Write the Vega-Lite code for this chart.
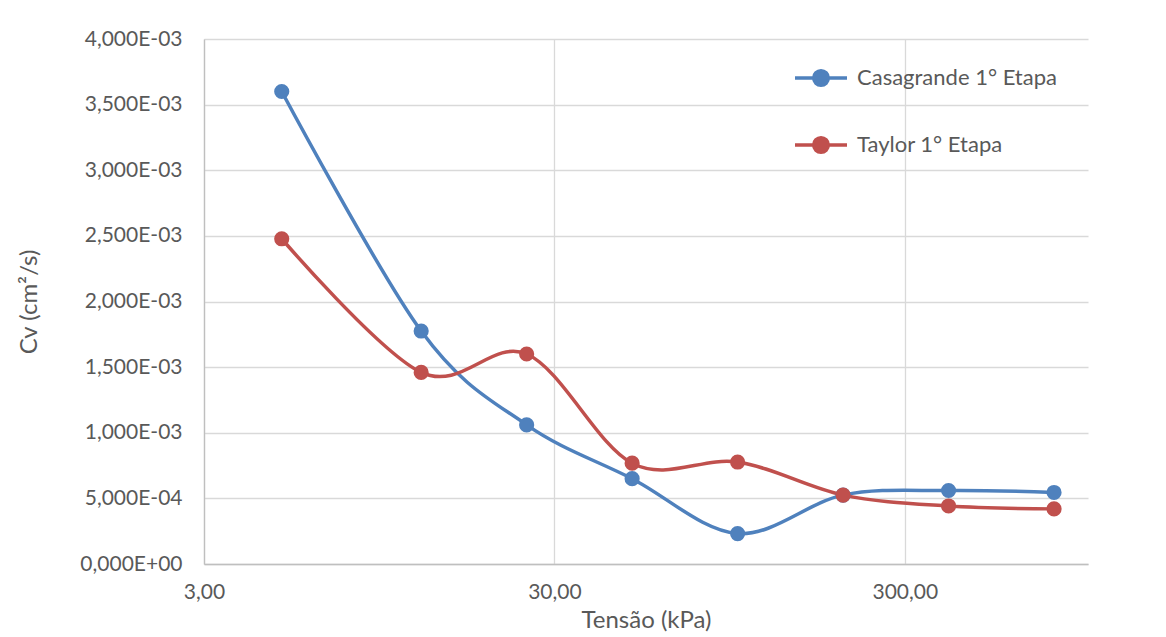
{
  "$schema": "https://vega.github.io/schema/vega-lite/v6.json",
  "width": 884,
  "height": 525,
  "autosize": {"type": "none"},
  "padding": {"left": 204, "top": 39, "right": 78, "bottom": 73},
  "background": "white",
  "config": {
    "view": {"stroke": null},
    "font": "Lato",
    "axis": {
      "labelFont": "Lato",
      "titleFont": "Lato",
      "labelColor": "#595959",
      "titleColor": "#595959",
      "labelFontSize": 21,
      "titleFontSize": 24,
      "titleFontWeight": "normal",
      "gridColor": "#d9d9d9",
      "gridWidth": 1.3,
      "domainColor": "#bfbfbf",
      "domainWidth": 1.3,
      "ticks": false
    }
  },
  "data": {
    "values": [
      {"serie": "Casagrande 1° Etapa", "tensao": 5, "cv": 0.0036},
      {"serie": "Casagrande 1° Etapa", "tensao": 12.5, "cv": 0.001775},
      {"serie": "Casagrande 1° Etapa", "tensao": 25, "cv": 0.00106},
      {"serie": "Casagrande 1° Etapa", "tensao": 50, "cv": 0.00065},
      {"serie": "Casagrande 1° Etapa", "tensao": 100, "cv": 0.000232},
      {"serie": "Casagrande 1° Etapa", "tensao": 200, "cv": 0.000525},
      {"serie": "Casagrande 1° Etapa", "tensao": 400, "cv": 0.00056},
      {"serie": "Casagrande 1° Etapa", "tensao": 800, "cv": 0.000545},
      {"serie": "Taylor 1° Etapa", "tensao": 5, "cv": 0.002478},
      {"serie": "Taylor 1° Etapa", "tensao": 12.5, "cv": 0.00146},
      {"serie": "Taylor 1° Etapa", "tensao": 25, "cv": 0.0016},
      {"serie": "Taylor 1° Etapa", "tensao": 50, "cv": 0.000768},
      {"serie": "Taylor 1° Etapa", "tensao": 100, "cv": 0.000777},
      {"serie": "Taylor 1° Etapa", "tensao": 200, "cv": 0.000525},
      {"serie": "Taylor 1° Etapa", "tensao": 400, "cv": 0.000442},
      {"serie": "Taylor 1° Etapa", "tensao": 800, "cv": 0.00042}
    ]
  },
  "encoding": {
    "x": {
      "field": "tensao",
      "type": "quantitative",
      "scale": {"type": "log", "domain": [3, 1000], "nice": false},
      "axis": {
        "title": "Tensão (kPa)",
        "values": [3, 30, 300],
        "labelExpr": "replace(format(datum.value, '.2f'), '.', ',')",
        "labelPadding": 17,
        "titlePadding": 6,
        "labelFlush": false
      }
    },
    "y": {
      "field": "cv",
      "type": "quantitative",
      "scale": {"domain": [0, 0.004], "nice": false},
      "axis": {
        "title": "Cv (cm²/s)",
        "values": [0, 0.0005, 0.001, 0.0015, 0.002, 0.0025, 0.003, 0.0035, 0.004],
        "labelExpr": "replace(replace(replace(format(datum.value, '.3e'), '.', ','), 'e-', 'E-0'), 'e+', 'E+0')",
        "labelPadding": 22,
        "titlePadding": 38
      }
    },
    "color": {
      "field": "serie",
      "type": "nominal",
      "scale": {
        "domain": ["Casagrande 1° Etapa", "Taylor 1° Etapa"],
        "range": ["#4f81bd", "#c0504d"]
      },
      "legend": {
        "title": null,
        "orient": "none",
        "legendX": 589,
        "legendY": 11,
        "padding": 0,
        "symbolType": "M-1,0H1M-0.28,0A0.28,0.28,0,1,0,0.28,0A0.28,0.28,0,1,0,-0.28,0",
        "symbolSize": 2704,
        "symbolStrokeWidth": 3.5,
        "symbolFillColor": null,
        "labelFontSize": 22,
        "labelFont": "Lato",
        "labelColor": "#595959",
        "labelOffset": 8,
        "labelLimit": 400,
        "rowPadding": 24
      }
    }
  },
  "layer": [
    {
      "mark": {"type": "line", "interpolate": "cardinal", "strokeWidth": 3.5}
    },
    {
      "mark": {"type": "point", "filled": true, "opacity": 1, "size": 230, "shape": "circle"}
    }
  ]
}
